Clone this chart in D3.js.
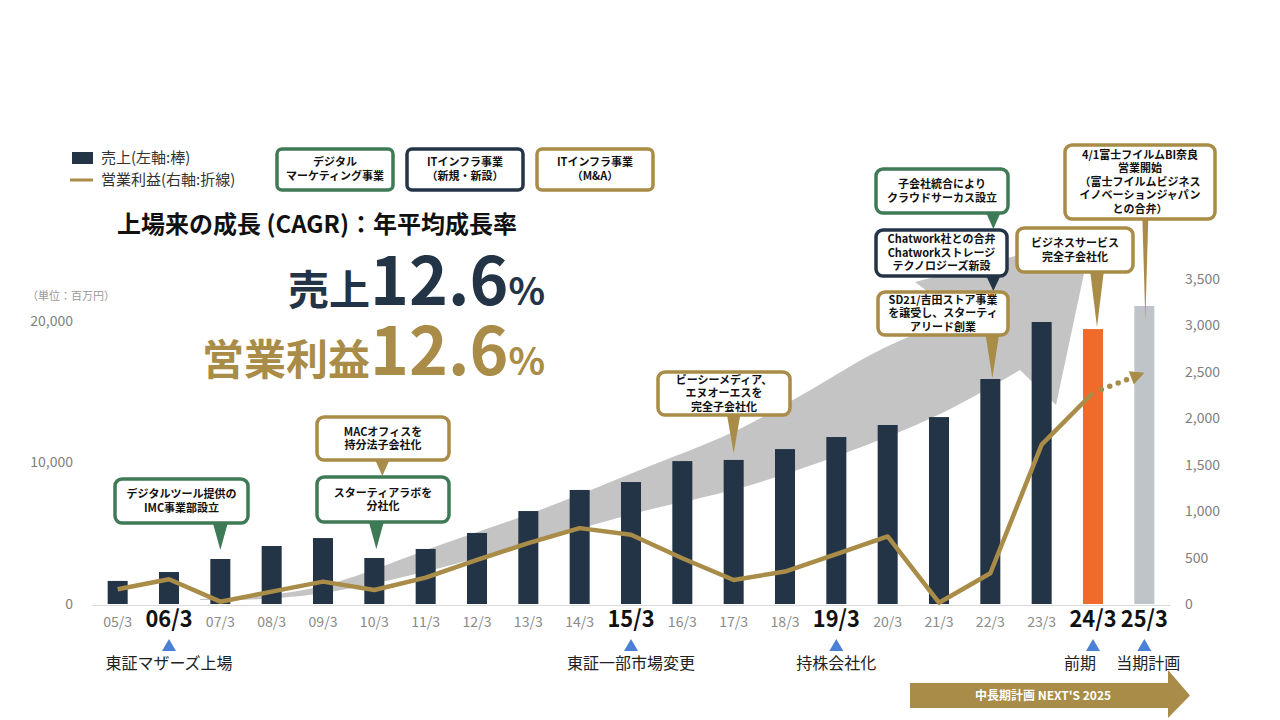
<!DOCTYPE html>
<html><head><meta charset="utf-8">
<script src="https://cdn.jsdelivr.net/npm/d3@7"></script>
<style>
body{margin:0;background:#fff}
svg{display:block}
text{font-family:"Noto Sans CJK JP","Noto Sans",sans-serif}
</style>
</head><body>
<svg id="chart" width="1280" height="720"></svg>
<script>
// ---------------- data ----------------
const categories = ["05/3","06/3","07/3","08/3","09/3","10/3","11/3","12/3","13/3","14/3","15/3","16/3","17/3","18/3","19/3","20/3","21/3","22/3","23/3","24/3","25/3"];
const sales  = [1630,2260,3180,4100,4660,3250,3890,5020,6570,8060,8620,10100,10180,10950,11800,12650,13210,15900,19930,19430,21060];
const profit = [159,267,25,133,241,151,284,475,655,817,745,493,259,349,537,727,14,331,1717,2275,2490];
const leftTicks  = [0,10000,20000];
const rightTicks = [0,500,1000,1500,2000,2500,3000,3500];
const highlightCats = ["06/3","15/3","19/3","24/3","25/3"];
const milestoneLabels = ["東証マザーズ上場","東証一部市場変更","持株会社化","前期","当期計画"];
const legendSeries = ["売上(左軸:棒)","営業利益(右軸:折線)"];
const segmentLegend = [
  {kind:"digital", lines:["デジタル","マーケティング事業"]},
  {kind:"new",     lines:["ITインフラ事業","（新規・新設）"]},
  {kind:"ma",      lines:["ITインフラ事業","（M&A）"]}
];
const callouts = [
  {id:"imc",  cat:"07/3", kind:"digital", lines:["デジタルツール提供の","IMC事業部設立"]},
  {id:"mac",  cat:"10/3", kind:"ma",      lines:["MACオフィスを","持分法子会社化"]},
  {id:"labo", cat:"10/3", kind:"digital", lines:["スターティアラボを","分社化"]},
  {id:"bc",   cat:"17/3", kind:"ma",      lines:["ビーシーメディア、","エヌオーエスを","完全子会社化"]},
  {id:"cc",   cat:"22/3", kind:"digital", lines:["子会社統合により","クラウドサーカス設立"]},
  {id:"cw",   cat:"22/3", kind:"new",     lines:["Chatwork社との合弁","Chatworkストレージ","テクノロジーズ新設"]},
  {id:"sd",   cat:"22/3", kind:"ma",      lines:["SD21/吉田ストア事業","を譲受し、スターティ","アリード創業"]},
  {id:"bs",   cat:"24/3", kind:"ma",      lines:["ビジネスサービス","完全子会社化"]},
  {id:"fuji", cat:"25/3", kind:"ma",      lines:["4/1富士フイルムBI奈良","営業開始","（富士フイルムビジネス","イノベーションジャパン","との合弁）"]}
];
const titleText = "上場来の成長 (CAGR)：年平均成長率";
const cagrSales = "12.6", cagrProfit = "12.6";
const unitText = "（単位：百万円）";
const planText = "中長期計画 NEXT'S 2025";

// ---------------- styles / layout ----------------
const C = {navy:"#243447", gold:"#a88c47", green:"#3f7a56", orange:"#f26a2a", plan:"#bfc4c9",
           arrow:"#c4c4c4", blue:"#4a80d6", tick:"#808080", axis:"#d9d9d9"};
const kindColor = {digital:C.green, new:C.navy, ma:C.gold};

const svg = d3.select("#chart");
svg.append("rect").attr("width",1280).attr("height",720).attr("fill","#fff");

const x = d3.scaleBand().domain(categories).range([92,1170]).paddingInner(0.61).paddingOuter(0.305);
const yL = d3.scaleLinear().domain([0,20000]).range([604,321]);
const yR = d3.scaleLinear().domain([0,3500]).range([604,279]);
const cx = c => x(c) + x.bandwidth()/2;

// ---------------- big gray growth arrow (decorative) ----------------
const upper = [[200,599],[262,596],[330,584],[440,545],[540,510],[640,470],[733,432],[800,396],[880,350],[960,316]];
const lower = [[1020,370],[940,414],[840,455],[740,488],[640,512],[540,540],[440,568],[330,592],[262,599],[200,600]];
const edge = d3.line().curve(d3.curveCatmullRom);
const arrowPath = edge(upper) + "L915,282L1092,236L1056,405L1020,370" + edge(lower).replace(/^M/,"L") + "Z";
svg.append("path").attr("d",arrowPath).attr("fill",C.arrow);

// ---------------- bars ----------------
svg.append("g").selectAll("rect").data(categories).join("rect")
  .attr("x",d=>x(d)).attr("width",x.bandwidth())
  .attr("y",(d,i)=>yL(sales[i])).attr("height",(d,i)=>yL(0)-yL(sales[i]))
  .attr("fill",(d,i)=> i===categories.length-1 ? C.plan : (i===categories.length-2 ? C.orange : C.navy));

// ---------------- x axis ----------------
const isHi = d => highlightCats.includes(d);
const xAxis = svg.append("g").attr("transform","translate(0,605)")
  .call(d3.axisBottom(x).tickSize(0).tickPadding(12));
xAxis.select(".domain").attr("stroke",C.axis).attr("stroke-width",1.2);
xAxis.selectAll(".tick text")
  .attr("font-family",'"Noto Sans CJK JP",sans-serif')
  .attr("font-size",d=>isHi(d)?23:14)
  .attr("font-weight",d=>isHi(d)?"bold":"normal")
  .attr("fill",d=>isHi(d)?"#111":"#8a8a8a")
  .attr("y",d=>isHi(d)?6:12)
  .attr("textLength",d=>isHi(d)?47:29)
  .attr("lengthAdjust","spacingAndGlyphs");

// ---------------- y axes ----------------
const gl = svg.append("g").attr("transform","translate(76,0)")
  .call(d3.axisLeft(yL).tickValues(leftTicks).tickFormat(d3.format(",")).tickSize(0).tickPadding(3));
gl.select(".domain").remove();
gl.selectAll("text").attr("font-size",14).attr("fill",C.tick).attr("font-family",'"Noto Sans CJK JP",sans-serif');

const gr = svg.append("g").attr("transform","translate(1182,0)")
  .call(d3.axisRight(yR).tickValues(rightTicks).tickFormat(d3.format(",")).tickSize(0).tickPadding(3));
gr.select(".domain").remove();
gr.selectAll("text").attr("font-size",14).attr("fill",C.tick).attr("font-family",'"Noto Sans CJK JP",sans-serif');

svg.append("text").attr("x",27).attr("y",300).attr("font-size",11).attr("fill","#999").text(unitText);

// ---------------- profit line ----------------
const nActual = categories.length-1;
const line = d3.line().x(d=>cx(d[0])).y(d=>yR(d[1]));
const pts = categories.map((c,i)=>[c,profit[i]]);
svg.append("path").attr("d",line(pts.slice(0,nActual)))
  .attr("fill","none").attr("stroke",C.gold).attr("stroke-width",4.5).attr("stroke-linejoin","round");
{
  const p1=[cx(pts[nActual-1][0]), yR(pts[nActual-1][1])];
  const p2=[cx(pts[nActual][0]), yR(pts[nActual][1])];
  const dx=p2[0]-p1[0], dy=p2[1]-p1[1], L=Math.hypot(dx,dy), ux=dx/L, uy=dy/L;
  const head=14, hw=7;
  const b=[p2[0]-ux*head, p2[1]-uy*head];
  svg.append("line").attr("x1",p1[0]+ux*9).attr("y1",p1[1]+uy*9).attr("x2",b[0]).attr("y2",b[1])
    .attr("stroke",C.gold).attr("stroke-width",5.5).attr("stroke-linecap","round").attr("stroke-dasharray","0,9");
  svg.append("path").attr("d",`M${p2[0]},${p2[1]}L${b[0]-uy*hw},${b[1]+ux*hw}L${b[0]+uy*hw},${b[1]-ux*hw}Z`).attr("fill",C.gold);
}

// ---------------- callouts ----------------
const calloutLayout = {
  imc:{x:115,y:479,w:133,h:44, gap:9,  bw:8, dx:0},
  mac:{x:317,y:417,w:132,h:43, to:"labo", bw:8, dx:8},
  labo:{x:317,y:477,w:132,h:45, gap:9, bw:8, dx:2},
  bc:{x:658,y:372,w:132,h:43, gap:7, bw:7, dx:0},
  cc:{x:876,y:169,w:132,h:44, to:"cw", bw:8, dx:3},
  cw:{x:876,y:230,w:131,h:46, to:"sd", bw:8, dx:3},
  sd:{x:878,y:292,w:130,h:43, gap:1, bw:7, dx:2},
  bs:{x:1017,y:228,w:116,h:44, gap:2, bw:7, dx:4},
  fuji:{x:1065,y:145,w:150,h:74, gap:-14, bw:3, dx:1}
};
const cg = svg.append("g");
callouts.forEach(c=>{
  const L = calloutLayout[c.id], col = kindColor[c.kind];
  const i = categories.indexOf(c.cat);
  const px = cx(c.cat) + L.dx;
  const tipY = L.to ? calloutLayout[L.to].y - 1 : yL(sales[i]) - L.gap;
  const by = L.y + L.h;
  const g = cg.append("g");
  g.append("path").attr("d",`M${px-L.bw},${by-2}L${px+L.bw},${by-2}L${px},${tipY}Z`).attr("fill",col);
  g.append("rect").attr("x",L.x).attr("y",L.y).attr("width",L.w).attr("height",L.h)
    .attr("rx",7).attr("fill","#fff").attr("stroke",col).attr("stroke-width",3.5);
  const lh=13.5, n=c.lines.length, y0 = L.y + L.h/2 - (n-1)*lh/2;
  c.lines.forEach((t,k)=>{
    g.append("text").attr("x",L.x+L.w/2).attr("y",y0+k*lh).attr("dy","0.36em")
      .attr("text-anchor","middle").attr("font-size",11).attr("font-weight","bold").attr("fill","#111").text(t);
  });
});

// ---------------- legends ----------------
svg.append("rect").attr("x",72).attr("y",152).attr("width",21).attr("height",12).attr("fill",C.navy);
svg.append("line").attr("x1",70).attr("x2",93).attr("y1",180).attr("y2",180).attr("stroke",C.gold).attr("stroke-width",3);
legendSeries.forEach((t,i)=>svg.append("text").attr("x",101).attr("y",158+i*22).attr("dy","0.36em")
  .attr("font-size",15).attr("fill","#333").text(t));

const segBoxes = [277,407,537];
segmentLegend.forEach((s,i)=>{
  const bx = segBoxes[i], col = kindColor[s.kind];
  svg.append("rect").attr("x",bx).attr("y",149).attr("width",116).attr("height",41).attr("rx",5)
    .attr("fill","#fff").attr("stroke",col).attr("stroke-width",3.5);
  s.lines.forEach((t,k)=>svg.append("text").attr("x",bx+58).attr("y",162.5+k*14).attr("dy","0.36em")
    .attr("text-anchor","middle").attr("font-size",11).attr("font-weight","bold").attr("fill","#111").text(t));
});

// ---------------- title & CAGR ----------------
svg.append("text").attr("x",117).attr("y",233).attr("font-size",24).attr("font-weight","bold").attr("fill","#111").text(titleText);

const t1 = svg.append("text").attr("x",545).attr("y",305).attr("text-anchor","end").attr("fill",C.navy).attr("font-weight","bold");
t1.append("tspan").attr("font-size",41).text("売上");
t1.append("tspan").attr("font-size",66).text(cagrSales);
t1.append("tspan").attr("font-size",38).text("%");
const t2 = svg.append("text").attr("x",545).attr("y",375).attr("text-anchor","end").attr("fill",C.gold).attr("font-weight","bold");
t2.append("tspan").attr("font-size",42).text("営業利益");
t2.append("tspan").attr("font-size",66).text(cagrProfit);
t2.append("tspan").attr("font-size",38).text("%");

// ---------------- milestones ----------------
const milestoneDx = [0,0,0,-13,4];
highlightCats.forEach((c,i)=>{
  const mx = cx(c);
  svg.append("path").attr("d",`M${mx},639L${mx+7},651L${mx-7},651Z`).attr("fill",C.blue);
  svg.append("text").attr("x",mx+milestoneDx[i]).attr("y",663).attr("dy","0.36em").attr("text-anchor","middle")
    .attr("font-size",16).attr("fill","#222").text(milestoneLabels[i]);
});

// ---------------- plan arrow ----------------
svg.append("path").attr("d","M910,683L1168,683L1168,670L1190,695.5L1168,718L1168,708L910,708Z").attr("fill",C.gold);
svg.append("text").attr("x",1043).attr("y",695.5).attr("dy","0.36em").attr("text-anchor","middle")
  .attr("font-size",12).attr("font-weight","bold").attr("fill","#fff").text(planText);
</script>
</body></html>
